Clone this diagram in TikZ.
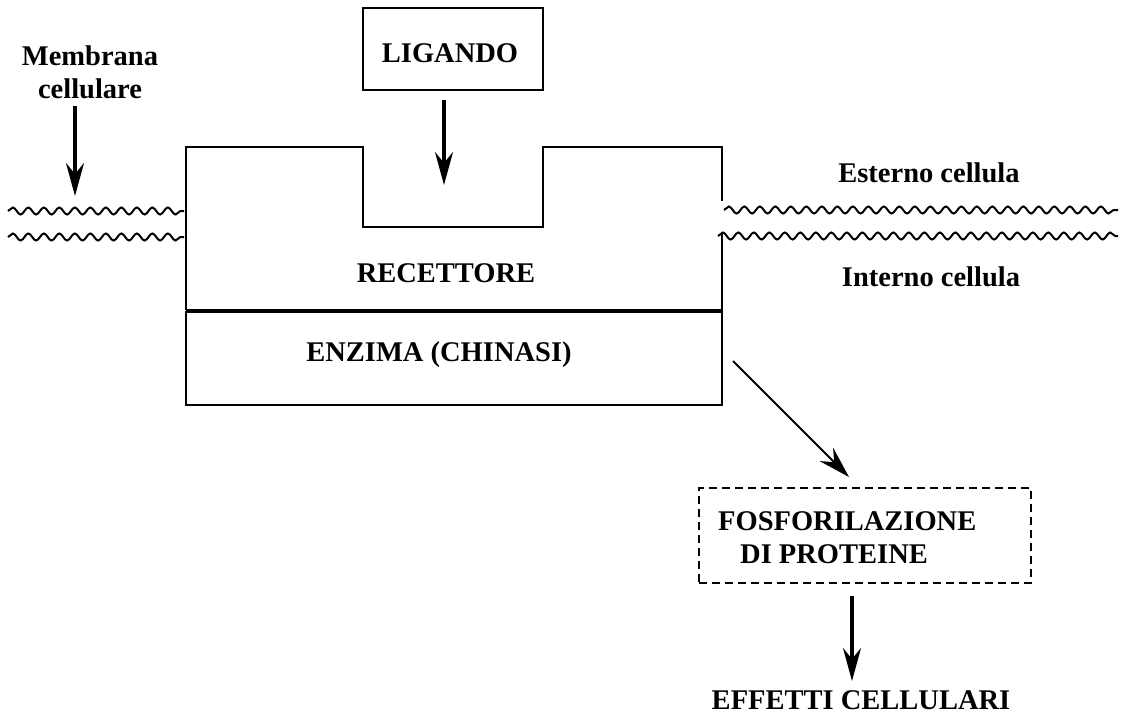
\documentclass[tikz,border=0pt]{standalone}
\usepackage{fontspec}
\setmainfont{Liberation Serif}
\usetikzlibrary{arrows.meta,decorations.pathmorphing}
\begin{document}
\begin{tikzpicture}[x=1pt,y=-1pt,
  lbl/.style={font=\fontsize{28.5}{33}\selectfont\bfseries, inner sep=0pt, align=center},
  outline/.style={line width=2pt},
  arr/.style={line width=3.2pt, -{Stealth[length=33pt,width=18pt,inset=11pt]}},
  thinarr/.style={line width=2pt, -{Stealth[length=32pt,width=19pt,inset=11pt]}},
  wave/.style={line width=2pt, decorate, decoration={snake, segment length=15.5pt, amplitude=3.5pt}}]
\useasboundingbox (0,0) rectangle (1122,713);

% ligand
\node[draw, outline, minimum width=180pt, minimum height=82pt] (lig) at (453,49) {};
\node[lbl, anchor=base] (ligtxt) at (450,62) {LIGANDO};

% receptor with binding pocket
\coordinate (rTL) at (186,147);
\coordinate (rBL) at (186,309.5);
\coordinate (rTR) at (722,147);
\coordinate (rBR) at (722,309.5);
\draw[outline] (rBL) -- (rTL) -- (363,147) -- (363,227) -- (543,227) -- (543,147) -- (rTR) -- (722,201);
\draw[outline] (722,233) -- (rBR) -- (rBL);
\node[lbl, anchor=base] (rec) at (446,282) {RECETTORE};

% kinase domain
\node[draw, outline, minimum width=536pt, minimum height=93pt] (enz) at (454,358) {};
\node[lbl, anchor=base] (enztxt) at (439,361) {ENZIMA (CHINASI)};

% membrane
\draw[wave] (8,211) -- (184,211);
\draw[wave] (8,237) -- (184,237);
\draw[wave] (724,210) -- (1118,210);
\draw[wave] (718,236) -- (1118,236);

% labels
\node[lbl] (memb) at (90,72) {Membrana\\cellulare};
\node[lbl, anchor=base] (est) at (929,182) {Esterno cellula};
\node[lbl, anchor=base] (int) at (931,286) {Interno cellula};

% arrows onto membrane and receptor
\coordinate (membtail) at (75,106);
\coordinate (membtip) at (75,196);
\draw[arr] (membtail) -- (membtip);
\coordinate (ligtail) at (444,100);
\coordinate (ligtip) at (444,185);
\draw[arr] (ligtail) -- (ligtip);

% phosphorylation
\node[draw, line width=1.6pt, dash pattern=on 8pt off 5pt, minimum width=332pt, minimum height=95pt] (fosbox) at (865,535.5) {};
\node[lbl, anchor=base west] (fos1) at (718,530) {FOSFORILAZIONE};
\node[lbl, anchor=base west] (fos2) at (740,563) {DI PROTEINE};
\coordinate (entail) at (733,361);
\coordinate (fostip) at (849,477);
\draw[thinarr] (entail) -- (fostip);

% cellular effects
\node[lbl, anchor=base] (eff) at (861,709) {EFFETTI CELLULARI};
\coordinate (efftail) at (852,596);
\coordinate (efftip) at (852,681);
\draw[arr] (efftail) -- (efftip);
\end{tikzpicture}
\end{document}
